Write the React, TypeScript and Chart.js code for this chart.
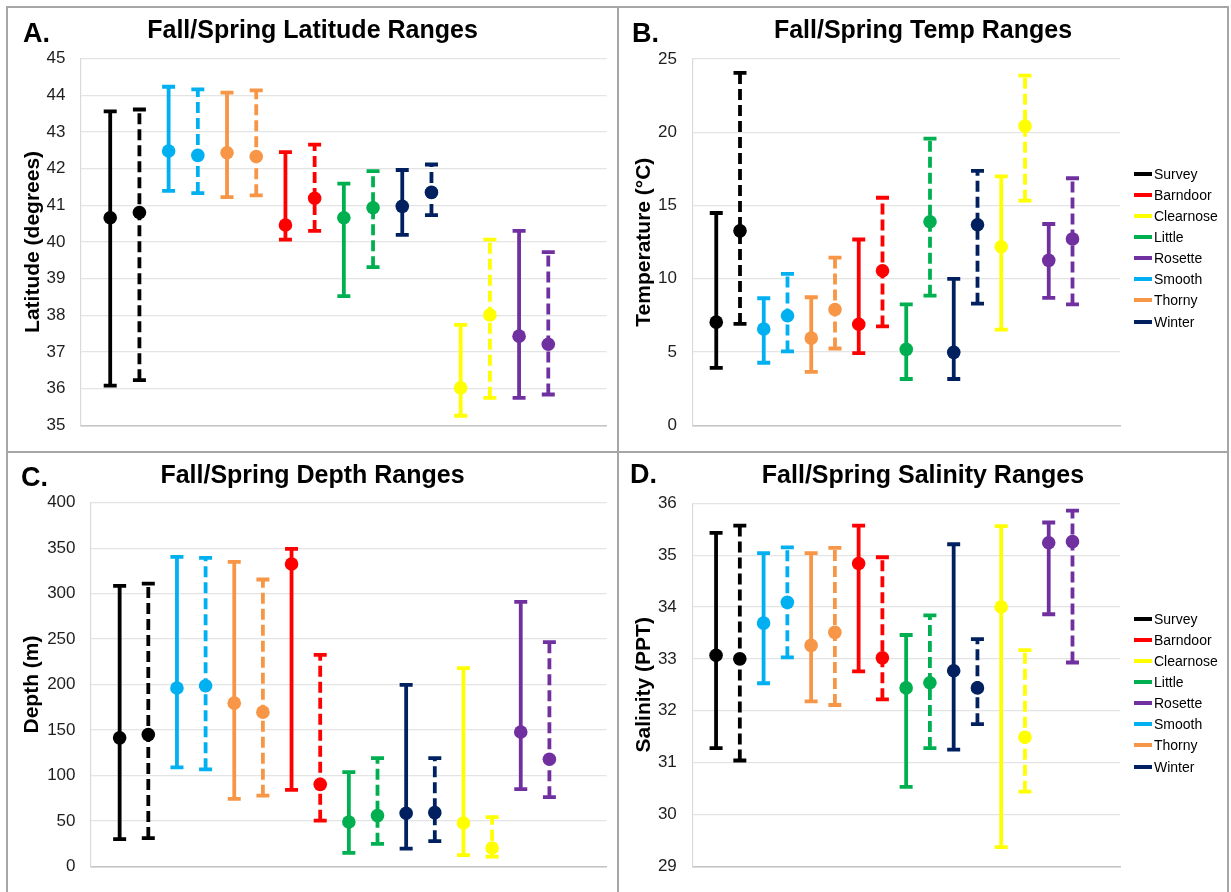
import React, { useEffect, useRef } from 'react';
import { Chart, registerables } from 'chart.js';

Chart.register(...registerables);

const FONT = "'Liberation Sans', Arial, Helvetica, sans-serif";

// Categories along the x axis (each species has a Fall (solid) and Spring (dashed) bar)
const species = ['Survey', 'Smooth', 'Thorny', 'Barndoor', 'Little', 'Winter', 'Clearnose', 'Rosette'];
const speciesColors = ['#000000', '#00b0f0', '#f79646', '#ff0000', '#00b050', '#002060', '#ffff00', '#7030a0'];

// Legend
const legendLabels = ['Survey', 'Barndoor', 'Clearnose', 'Little', 'Rosette', 'Smooth', 'Thorny', 'Winter'];
const legendColors = ['#000000', '#ff0000', '#ffff00', '#00b050', '#7030a0', '#00b0f0', '#f79646', '#002060'];

// A. Latitude (degrees)
const latFallMean = [40.66, 42.48, 42.43, 40.46, 40.66, 40.97, 36.02, 37.43];
const latFallLow = [36.08, 41.39, 41.22, 40.06, 38.52, 40.19, 35.26, 35.75];
const latFallHigh = [43.56, 44.23, 44.07, 42.45, 41.59, 41.96, 37.74, 40.3];
const latSpringMean = [40.8, 42.36, 42.33, 41.19, 40.93, 41.35, 38.01, 37.21];
const latSpringLow = [36.23, 41.33, 41.27, 40.3, 39.31, 40.73, 35.75, 35.84];
const latSpringHigh = [43.61, 44.16, 44.13, 42.65, 41.93, 42.11, 40.06, 39.72];

// B. Temperature (°C)
const tempFallMean = [7.04, 6.57, 5.95, 6.9, 5.18, 4.98, 12.19, 11.26];
const tempFallLow = [3.92, 4.27, 3.65, 4.93, 3.16, 3.16, 6.53, 8.69];
const tempFallHigh = [14.49, 8.67, 8.74, 12.68, 8.25, 10.0, 16.99, 13.74];
const tempSpringMean = [13.27, 7.48, 7.9, 10.55, 13.89, 13.69, 20.42, 12.72];
const tempSpringLow = [6.92, 5.04, 5.24, 6.75, 8.85, 8.3, 15.33, 8.25];
const tempSpringHigh = [24.05, 10.33, 11.44, 15.53, 19.56, 17.37, 23.87, 16.86];

// C. Depth (m)
const depthFallMean = [141.3, 196.1, 179.5, 332.5, 48.8, 58.3, 47.7, 147.7];
const depthFallLow = [30, 108.8, 74.2, 84.1, 14.8, 19.4, 12.4, 84.8];
const depthFallHigh = [308.5, 340.3, 335, 349.1, 103.5, 199.6, 218, 290.8];
const depthSpringMean = [144.9, 198.6, 169.6, 90.1, 55.8, 59, 20.1, 117.7];
const depthSpringLow = [31.1, 106.7, 77.7, 50.2, 24.7, 27.6, 10.6, 76];
const depthSpringHigh = [311, 339.2, 315.5, 232.5, 119.1, 119.1, 54.1, 246.6];

// D. Salinity (PPT)
const salFallMean = [33.07, 33.69, 33.26, 34.84, 32.44, 32.77, 34.0, 35.24];
const salFallLow = [31.28, 32.53, 32.18, 32.76, 30.53, 31.25, 29.37, 33.86];
const salFallHigh = [35.43, 35.04, 35.04, 35.57, 33.46, 35.21, 35.56, 35.63];
const salSpringMean = [33.0, 34.09, 33.51, 33.02, 32.54, 32.44, 31.49, 35.26];
const salSpringLow = [31.04, 33.03, 32.11, 32.22, 31.28, 31.74, 30.44, 32.93];
const salSpringHigh = [35.57, 35.15, 35.14, 34.96, 33.84, 33.38, 33.17, 35.86];

type Series = { mean: number[]; low: number[]; high: number[] };

type PanelSpec = {
  letter: string;
  title: string;
  yTitle: string;
  yMin: number;
  yMax: number;
  yStep: number;
  fall: Series;
  spring: Series;
  left: number;
  top: number;
  width: number;
  height: number;
  plotLeft: number;
  plotRight: number;
  plotTop: number;
  plotBottom: number;
  yTitleX: number;
  titleCX: number;
  titleCY: number;
  letterX: number;
  letterBaseline: number;
  legendTop?: number;
};

const panels: PanelSpec[] = [
  {
    letter: 'A.', title: 'Fall/Spring Latitude Ranges', yTitle: 'Latitude (degrees)',
    yMin: 35, yMax: 45, yStep: 1,
    fall: { mean: latFallMean, low: latFallLow, high: latFallHigh },
    spring: { mean: latSpringMean, low: latSpringLow, high: latSpringHigh },
    left: 8, top: 8, width: 609, height: 443,
    plotLeft: 73, plotRight: 600, plotTop: 50.5, plotBottom: 428,
    yTitleX: 25, titleCX: 312.5, titleCY: 29, letterX: 23, letterBaseline: 42.7,
  },
  {
    letter: 'B.', title: 'Fall/Spring Temp Ranges', yTitle: 'Temperature (°C)',
    yMin: 0, yMax: 25, yStep: 5,
    fall: { mean: tempFallMean, low: tempFallLow, high: tempFallHigh },
    spring: { mean: tempSpringMean, low: tempSpringLow, high: tempSpringHigh },
    left: 619, top: 8, width: 608, height: 443,
    plotLeft: 73.5, plotRight: 501, plotTop: 51, plotBottom: 427.5,
    yTitleX: 25.5, titleCX: 923, titleCY: 29, letterX: 632, letterBaseline: 42.3,
    legendTop: 173.5,
  },
  {
    letter: 'C.', title: 'Fall/Spring Depth Ranges', yTitle: 'Depth (m)',
    yMin: 0, yMax: 400, yStep: 50,
    fall: { mean: depthFallMean, low: depthFallLow, high: depthFallHigh },
    spring: { mean: depthSpringMean, low: depthSpringLow, high: depthSpringHigh },
    left: 8, top: 453, width: 609, height: 439,
    plotLeft: 83, plotRight: 600, plotTop: 49.7, plotBottom: 427,
    yTitleX: 24, titleCX: 312.5, titleCY: 473.5, letterX: 21, letterBaseline: 486.7,
  },
  {
    letter: 'D.', title: 'Fall/Spring Salinity Ranges', yTitle: 'Salinity (PPT)',
    yMin: 29, yMax: 36, yStep: 1,
    fall: { mean: salFallMean, low: salFallLow, high: salFallHigh },
    spring: { mean: salSpringMean, low: salSpringLow, high: salSpringHigh },
    left: 619, top: 453, width: 608, height: 439,
    plotLeft: 73.3, plotRight: 501, plotTop: 50.3, plotBottom: 427,
    yTitleX: 25.5, titleCX: 923, titleCY: 473.5, letterX: 630, letterBaseline: 483.3,
    legendTop: 618.5,
  },
];

const STEM_W = 3.8;
const DASH = [11, 5];

function Panel({ spec }: { spec: PanelSpec }) {
  const ref = useRef<HTMLCanvasElement | null>(null);

  useEffect(() => {
    if (!ref.current) return;
    const datasets: any[] = [];
    const seasons = [
      { s: spec.fall, dash: [] as number[], name: 'Fall' },
      { s: spec.spring, dash: DASH, name: 'Spring' },
    ];
    species.forEach((name, i) => {
      const color = speciesColors[i];
      seasons.forEach((season, k) => {
        const x = 2 * i + 1 + k;
        datasets.push({
          label: `${name} ${season.name} range`,
          data: [{ x, y: season.s.low[i] }, { x, y: season.s.high[i] }],
          showLine: true,
          borderColor: color,
          borderWidth: STEM_W,
          borderDash: season.dash,
          pointRadius: 0,
          pointHoverRadius: 0,
          order: 3,
        });
        datasets.push({
          label: `${name} ${season.name} caps`,
          data: [{ x, y: season.s.low[i] }, { x, y: season.s.high[i] }],
          showLine: false,
          pointStyle: 'line',
          pointRadius: 6.5,
          pointHoverRadius: 6.5,
          pointBorderColor: color,
          pointBorderWidth: STEM_W,
          pointBackgroundColor: color,
          order: 2,
        });
        datasets.push({
          label: `${name} ${season.name} mean`,
          data: [{ x, y: season.s.mean[i] }],
          showLine: false,
          pointStyle: 'circle',
          pointRadius: 6.8,
          pointHoverRadius: 6.8,
          pointBorderWidth: 0,
          pointBorderColor: color,
          pointBackgroundColor: color,
          order: 1,
        });
      });
    });

    const titleLineH = 21 * 1.2;
    const padLeft = spec.yTitleX - titleLineH / 2;
    const yWidth = spec.plotLeft - padLeft;

    const chart = new Chart(ref.current, {
      type: 'scatter',
      data: { datasets },
      options: {
        animation: false,
        responsive: false,
        maintainAspectRatio: false,
        events: [],
        layout: {
          padding: {
            left: padLeft,
            top: spec.plotTop,
            right: spec.width - spec.plotRight,
            bottom: spec.height - spec.plotBottom,
          },
        },
        plugins: {
          legend: { display: false },
          tooltip: { enabled: false },
          title: { display: false },
        },
        scales: {
          x: {
            type: 'linear',
            min: 0,
            max: 18,
            ticks: { display: false },
            grid: { display: false, drawTicks: false },
            border: { display: true, color: '#c4c4c4', width: 1.5 },
            afterFit: (s: any) => { s.height = 0; },
          },
          y: {
            type: 'linear',
            min: spec.yMin,
            max: spec.yMax,
            ticks: {
              stepSize: spec.yStep,
              padding: 15.5,
              color: '#1e1e1e',
              font: { family: FONT, size: 17 },
            },
            grid: { color: '#e4e4e4', lineWidth: 1.2, drawTicks: false },
            border: { display: true, color: '#dadada', width: 1.2 },
            title: {
              display: true,
              text: spec.yTitle,
              color: '#000000',
              font: { family: FONT, size: 21, weight: 'bold' },
              padding: { top: 0, bottom: 0 },
            },
            afterFit: (s: any) => { s.width = yWidth; },
          },
        },
      } as any,
    });
    return () => chart.destroy();
  }, [spec]);

  const titleTop = spec.titleCY - 14.75;
  const letterTop = spec.letterBaseline - 25.4;

  return (
    <>
      <canvas
        ref={ref}
        width={spec.width}
        height={spec.height}
        style={{ position: 'absolute', left: spec.left, top: spec.top, width: spec.width, height: spec.height }}
      />
      <div
        style={{
          position: 'absolute',
          left: spec.titleCX - 250,
          width: 500,
          top: titleTop,
          textAlign: 'center',
          fontFamily: FONT,
          fontWeight: 'bold',
          fontSize: 25,
          lineHeight: '30px',
          color: '#000',
          whiteSpace: 'nowrap',
        }}
      >
        {spec.title}
      </div>
      <div
        style={{
          position: 'absolute',
          left: spec.letterX,
          top: letterTop,
          fontFamily: FONT,
          fontWeight: 'bold',
          fontSize: 27,
          lineHeight: '32px',
          color: '#000',
          whiteSpace: 'nowrap',
        }}
      >
        {spec.letter}
      </div>
      {spec.legendTop !== undefined &&
        legendLabels.map((lab, i) => (
          <div
            key={lab}
            style={{
              position: 'absolute',
              left: 1134,
              top: (spec.legendTop as number) + i * 21.15 - 10.5,
              height: 21,
              display: 'flex',
              alignItems: 'center',
              fontFamily: FONT,
              fontSize: 14,
              color: '#000',
              whiteSpace: 'nowrap',
            }}
          >
            <span style={{ display: 'inline-block', width: 18, height: 4, background: legendColors[i], marginRight: 2 }} />
            <span>{lab}</span>
          </div>
        ))}
    </>
  );
}

const BORDER = '#a6a6a6';

export default function App() {
  return (
    <div
      style={{
        position: 'absolute',
        left: 0,
        top: 0,
        width: 1231,
        height: 892,
        background: '#ffffff',
        overflow: 'hidden',
      }}
    >
      <div style={{ position: 'absolute', left: 6, top: 6, width: 1223, height: 2, background: BORDER }} />
      <div style={{ position: 'absolute', left: 6, top: 6, width: 2, height: 886, background: BORDER }} />
      <div style={{ position: 'absolute', left: 1227, top: 6, width: 2, height: 886, background: BORDER }} />
      <div style={{ position: 'absolute', left: 617, top: 6, width: 2, height: 886, background: BORDER }} />
      <div style={{ position: 'absolute', left: 6, top: 451, width: 1223, height: 2, background: BORDER }} />
      {panels.map((p) => (
        <Panel key={p.letter} spec={p} />
      ))}
    </div>
  );
}
